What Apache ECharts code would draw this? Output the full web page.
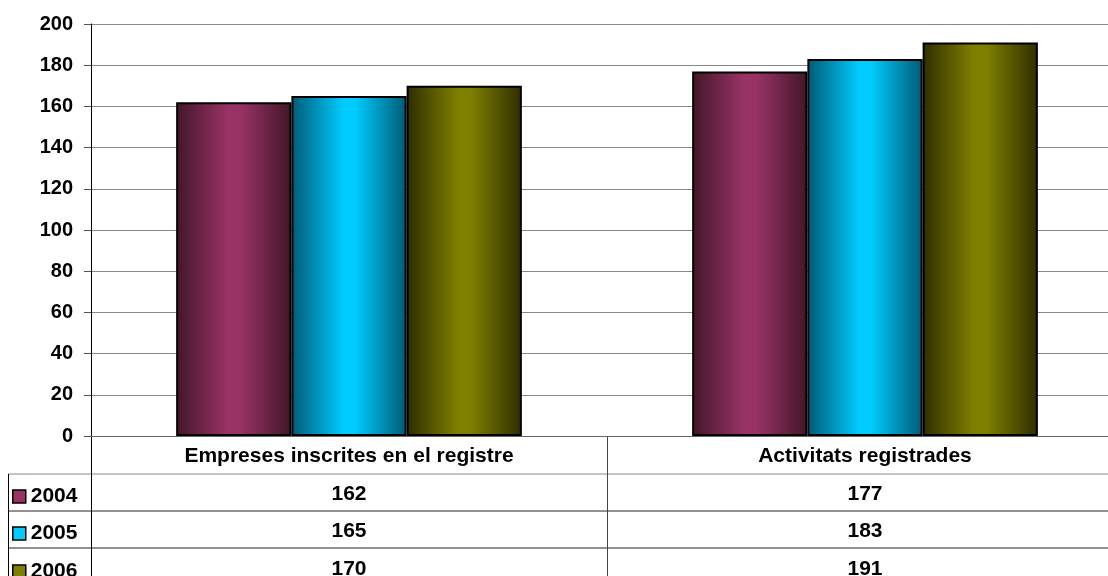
<!DOCTYPE html>
<html><head><meta charset="utf-8">
<script src="https://cdn.jsdelivr.net/npm/echarts@6/dist/echarts.min.js"></script>
<style>html,body{margin:0;padding:0;background:#fff}#c{width:1108px;height:576px}</style>
</head><body><div id="c"></div>
<script>
var categories = ['Empreses inscrites en el registre', 'Activitats registrades'];
var seriesNames = ['2004', '2005', '2006'];
var v2004 = [162, 177];
var v2005 = [165, 183];
var v2006 = [170, 191];
var yTicks = [0, 20, 40, 60, 80, 100, 120, 140, 160, 180, 200];

var values = [v2004, v2005, v2006];
var baseColors = ['#993366', '#00ccff', '#808000'];
var edgeColors = ['#431628', '#005a75', '#2e2e00'];

var chart = echarts.init(document.getElementById('c'));
var font = 'Arial, "Liberation Sans", sans-serif';

function grad(i) {
  return new echarts.graphic.LinearGradient(0, 0, 1, 0, [
    {offset: 0, color: edgeColors[i]},
    {offset: 0.45, color: baseColors[i]},
    {offset: 0.55, color: baseColors[i]},
    {offset: 1, color: edgeColors[i]}
  ]);
}

var gridLeft = 91, gridTop = 24, gridW = 1032, gridH = 412;
var rowOffsets = [40, 77, 115];
var rowTops = [486, 523, 561];

var xAxes = [{
  type: 'category', data: categories, gridIndex: 0, position: 'bottom',
  axisLine: {show: true, lineStyle: {color: '#666', width: 1}},
  axisTick: {show: false},
  axisLabel: {margin: 10, fontSize: 21, fontWeight: 'bold', color: '#000', fontFamily: font}
}];
values.forEach(function (vals, i) {
  xAxes.push({
    type: 'category', data: categories, gridIndex: 0, position: 'bottom', offset: rowOffsets[i],
    axisLine: {show: false}, axisTick: {show: false}, splitLine: {show: false},
    axisLabel: {margin: 8, fontSize: 21, fontWeight: 'bold', color: '#000', fontFamily: font,
      formatter: function (v, idx) { return String(vals[idx]); }}
  });
});

var series = values.map(function (vals, i) {
  return {
    name: seriesNames[i], type: 'bar', data: vals, xAxisIndex: 0,
    barGap: '0%', barCategoryGap: '33%',
    itemStyle: {color: grad(i), borderColor: '#000', borderWidth: 2},
    emphasis: {disabled: true}
  };
});

var legends = seriesNames.map(function (n, i) {
  return {
    data: [{name: n, itemStyle: {color: baseColors[i], borderColor: '#000', borderWidth: 1.5}}],
    orient: 'vertical', left: 12, top: rowTops[i], padding: 0, itemWidth: 13, itemHeight: 13,
    icon: 'rect', selectedMode: false,
    textStyle: {fontSize: 21, fontWeight: 'bold', color: '#000', fontFamily: font}
  };
});

var L = function (x1, y1, x2, y2, c) {
  return {type: 'line', shape: {x1: x1, y1: y1, x2: x2, y2: y2}, style: {stroke: c || '#000', lineWidth: 1}, silent: true};
};
var colDiv = gridLeft + gridW / 2;

chart.setOption({
  animation: false,
  backgroundColor: '#fff',
  grid: {left: gridLeft, top: gridTop, width: gridW, height: gridH, containLabel: false, outerBoundsMode: 'none'},
  legend: legends,
  xAxis: xAxes,
  yAxis: {
    type: 'value', min: 0, max: 200, interval: 20,
    axisLine: {show: true, lineStyle: {color: '#000', width: 1}},
    axisTick: {show: true, length: 7, lineStyle: {color: '#555'}},
    axisLabel: {margin: 18, fontSize: 20, fontWeight: 'bold', color: '#000', fontFamily: font,
      formatter: function (v) { return yTicks.indexOf(v) >= 0 ? String(v) : ''; }},
    splitLine: {show: true, lineStyle: {color: '#888', width: 1}}
  },
  series: series,
  graphic: [
    L(8, 474, 1108, 474, '#888'),
    L(8, 511, 1108, 511, '#222'),
    L(8, 548, 1108, 548, '#222'),
    L(8.5, 474, 8.5, 576, '#000'),
    L(91.5, 436, 91.5, 576, '#000'),
    L(colDiv + 0.5, 436, colDiv + 0.5, 576, '#444')
  ]
});
</script></body></html>
